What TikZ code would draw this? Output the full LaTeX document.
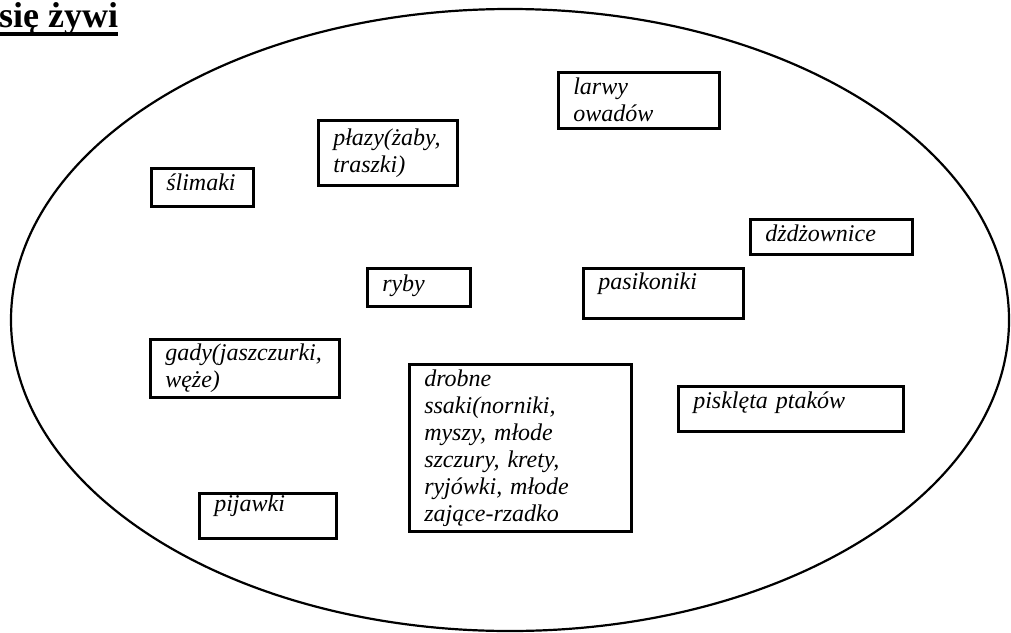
\documentclass[tikz,border=0pt]{standalone}
\usepackage{fontspec}
\setmainfont{Liberation Serif}
\tikzset{
	pudelko/.style={draw=black, line width=2.5pt, anchor=north west, align=left,
		inner xsep=15pt, inner ysep=0pt, font=\fontsize{24}{27}\selectfont\itshape},
}
\begin{document}
\begin{tikzpicture}[x=1pt, y=-1pt]
	\useasboundingbox (0,0) rectangle (1011,632);

	% naglowek i owal
	\node[anchor=base west, inner sep=0pt, font=\fontsize{36}{40}\selectfont\bfseries] (tytul) at (-1,27) {się żywi};
	\draw[line width=4pt] ([yshift=-7pt]tytul.base west) -- ([yshift=-7pt]tytul.base east);
	\draw[line width=2.2pt] (510,320) ellipse [x radius=499pt, y radius=311pt];

	\node[pudelko, text width=131pt, minimum height=56pt]           (larwy)    at (557,71)  {larwy\\owadów};
	\node[pudelko, text width=109pt, minimum height=65pt]           (plazy)    at (317,119) {płazy(żaby,\\traszki)};
	\node[pudelko, text width=72pt,  text height=22pt, text depth=16pt] (slimaki)  at (150,167) {ślimaki};
	\node[pudelko, text width=132pt, text height=22pt, text depth=13pt] (dzdzownice) at (749,218) {dżdżownice};
	\node[pudelko, text width=73pt,  text height=23pt, text depth=15pt] (ryby)     at (366,267) {ryby};
	\node[pudelko, text width=130pt, text height=21pt, text depth=29pt] (pasikoniki) at (582,267) {pasikoniki};
	\node[pudelko, text width=159pt, minimum height=58pt]           (gady)     at (149,338) {gady(jaszczurki,\\węże)};
	\node[pudelko, text width=192pt, minimum height=167pt]          (ssaki)    at (408,363) {drobne\\ssaki(norniki,\\myszy, młode\\szczury, krety,\\ryjówki, młode\\zające-rzadko};
	\node[pudelko, text width=195pt, text height=22pt, text depth=23pt] (piskleta) at (677,385) {pisklęta ptaków};
	\node[pudelko, text width=107pt, text height=18pt, text depth=27pt] (pijawki)  at (198,492) {pijawki};
\end{tikzpicture}
\end{document}
